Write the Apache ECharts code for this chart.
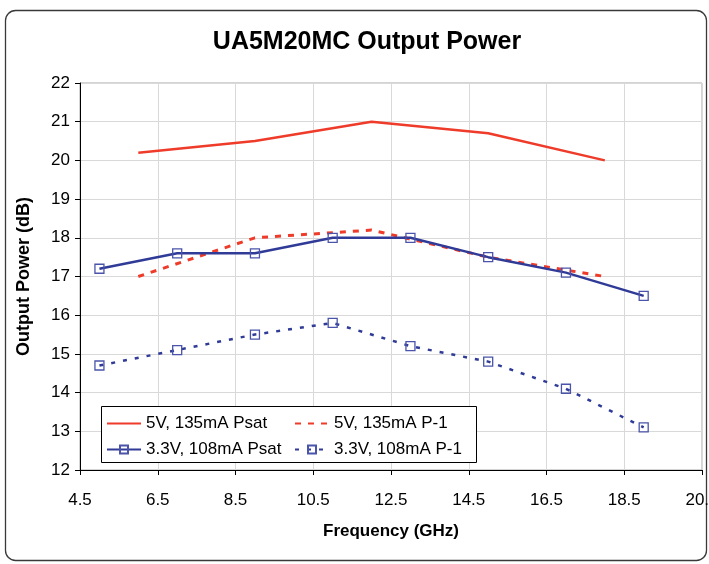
<!DOCTYPE html>
<html>
<head>
<meta charset="utf-8">
<script src="https://cdn.jsdelivr.net/npm/echarts@6/dist/echarts.min.js"></script>
<style>
html,body{margin:0;padding:0;background:#fff;}
#chart{width:709px;height:564px;}
</style>
</head>
<body>
<div id="chart"></div>
<script>
// Data
const freq5V = [6, 9, 12, 15, 18];
const psat5V = [20.2, 20.5, 21.0, 20.7, 20.0];
const p1_5V = [17.0, 18.0, 18.2, 17.5, 17.0];
const freq33V = [5, 7, 9, 11, 13, 15, 17, 19];
const psat33V = [17.2, 17.6, 17.6, 18.0, 18.0, 17.5, 17.1, 16.5];
const p1_33V = [14.7, 15.1, 15.5, 15.8, 15.2, 14.8, 14.1, 13.1];
const seriesNames = ['5V, 135mA Psat', '5V, 135mA P-1', '3.3V, 108mA Psat', '3.3V, 108mA P-1'];

const RED = '#ef3b2a';
const BLUE = '#303b97';
const MARK = '#4a54aa';
const FONT = '"Liberation Sans", Arial, sans-serif';

function pairs(xs, ys) { return xs.map((x, i) => [x, ys[i]]); }

const chart = echarts.init(document.getElementById('chart'), null, {renderer: 'canvas'});
const markerStyle = {color: 'rgba(255,255,255,0)', borderColor: MARK, borderWidth: 1.3};
const hiddenMarker = {color: 'rgba(0,0,0,0)', borderColor: 'rgba(0,0,0,0)', borderWidth: 0};
const legendCommon = {
  orient: 'vertical', top: 415, padding: 0, icon: 'inherit',
  itemWidth: 34, itemHeight: 10, itemGap: 9, z: 60,
  textStyle: {fontFamily: FONT, fontSize: 17, color: '#000'}
};

chart.setOption({
  animation: false,
  textStyle: {fontFamily: FONT},
  title: {
    text: 'UA5M20MC Output Power',
    left: 362, top: 25, textAlign: 'center',
    textStyle: {fontFamily: FONT, fontSize: 25, fontWeight: 'bold', color: '#000'}
  },
  graphic: [
    {type: 'rect', z: 0, silent: true,
     shape: {x: 5.5, y: 10.5, width: 701, height: 550, r: 10},
     style: {fill: 'none', stroke: '#3a3a3a', lineWidth: 1.3}},
    {type: 'rect', z: 50, silent: true,
     shape: {x: 101.5, y: 406.5, width: 375, height: 56},
     style: {fill: '#fff', stroke: '#000', lineWidth: 1}}
  ],
  legend: [
    Object.assign({data: [seriesNames[0], seriesNames[2]], left: 106}, legendCommon),
    Object.assign({data: [seriesNames[1], seriesNames[3]], left: 294}, legendCommon)
  ],
  grid: {left: 80, top: 83, right: 7, bottom: 94, show: true, containLabel: false,
         outerBoundsMode: 'none',
         borderColor: '#a8a8a8', borderWidth: 1, backgroundColor: 'transparent'},
  xAxis: {
    type: 'value', min: 4.5, max: 20.5, interval: 2,
    name: 'Frequency (GHz)', nameLocation: 'middle', nameGap: 53,
    nameTextStyle: {fontFamily: FONT, fontSize: 17, fontWeight: 'bold', color: '#000'},
    axisLine: {show: true, onZero: false, lineStyle: {color: '#000', width: 1}},
    axisTick: {show: true, inside: false, length: 5, lineStyle: {color: '#000'}},
    axisLabel: {fontFamily: FONT, fontSize: 17, color: '#000', margin: 22,
                showMinLabel: true, showMaxLabel: true, hideOverlap: false},
    splitLine: {show: true, lineStyle: {color: '#d9d9d9', width: 1}}
  },
  yAxis: {
    type: 'value', min: 12, max: 22, interval: 1,
    name: 'Output Power (dB)', nameLocation: 'middle', nameGap: 47, nameRotate: 90,
    nameTextStyle: {fontFamily: FONT, fontSize: 18, fontWeight: 'bold', color: '#000'},
    axisLine: {show: true, onZero: false, lineStyle: {color: '#000', width: 1}},
    axisTick: {show: true, inside: false, length: 5, lineStyle: {color: '#000'}},
    axisLabel: {fontFamily: FONT, fontSize: 17, color: '#000', margin: 10},
    splitLine: {show: true, lineStyle: {color: '#d9d9d9', width: 1}}
  },
  series: [
    {name: seriesNames[0], type: 'line', data: pairs(freq5V, psat5V),
     symbol: 'circle', showSymbol: false, itemStyle: hiddenMarker,
     lineStyle: {color: RED, width: 2.5, type: 'solid'}},
    {name: seriesNames[1], type: 'line', data: pairs(freq5V, p1_5V),
     symbol: 'circle', showSymbol: false, itemStyle: hiddenMarker,
     lineStyle: {color: RED, width: 3, type: [6, 7]}},
    {name: seriesNames[2], type: 'line', data: pairs(freq33V, psat33V),
     symbol: 'rect', symbolSize: 9, itemStyle: markerStyle,
     lineStyle: {color: BLUE, width: 2.5, type: 'solid'}},
    {name: seriesNames[3], type: 'line', data: pairs(freq33V, p1_33V),
     symbol: 'rect', symbolSize: 9, itemStyle: markerStyle,
     lineStyle: {color: BLUE, width: 2.5, type: [4, 8]}}
  ]
});
</script>
</body>
</html>
